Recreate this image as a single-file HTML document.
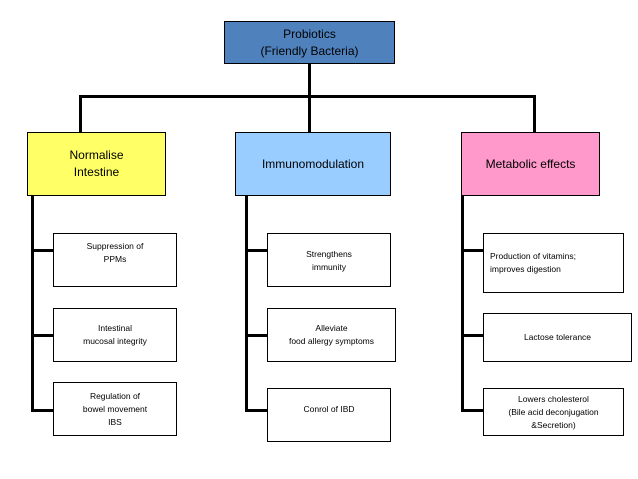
<!DOCTYPE html>
<html><head><style>
body{margin:0;width:638px;height:479px;background:#fff;position:relative;overflow:hidden;font-family:"Liberation Sans",sans-serif;}
.b{position:absolute;box-sizing:border-box;border:1.5px solid #000;display:flex;align-items:center;justify-content:center;text-align:center;color:#000;}
.l{position:absolute;background:#000;}
.s{font-size:8.5px;line-height:13px;}
.m{font-size:12px;line-height:17px;}
</style></head><body>
<div class="b m" style="left:224px;top:21px;width:171px;height:43px;background:#4f81bd;">Probiotics<br>(Friendly Bacteria)</div>
<div class="l" style="left:308px;top:63px;width:3px;height:70px;"></div>
<div class="l" style="left:79px;top:95px;width:457px;height:3px;"></div>
<div class="l" style="left:79px;top:95px;width:3px;height:38px;"></div>
<div class="l" style="left:533px;top:95px;width:3px;height:38px;"></div>
<div class="b m" style="left:27px;top:132px;width:139px;height:64px;background:#ffff66;">Normalise<br>Intestine</div>
<div class="b m" style="left:235px;top:132px;width:156px;height:64px;background:#99ccff;">Immunomodulation</div>
<div class="b m" style="left:461px;top:132px;width:139px;height:64px;background:#ff99cc;">Metabolic effects</div>

<div class="l" style="left:31px;top:196px;width:3px;height:215px;"></div>
<div class="l" style="left:245px;top:196px;width:3px;height:215px;"></div>
<div class="l" style="left:461px;top:196px;width:3px;height:215px;"></div>

<div class="l" style="left:31px;top:249px;width:23px;height:3px;"></div>
<div class="l" style="left:31px;top:334px;width:23px;height:3px;"></div>
<div class="l" style="left:31px;top:409px;width:23px;height:3px;"></div>
<div class="l" style="left:245px;top:249px;width:22px;height:3px;"></div>
<div class="l" style="left:245px;top:334px;width:22px;height:3px;"></div>
<div class="l" style="left:245px;top:409px;width:22px;height:3px;"></div>
<div class="l" style="left:461px;top:249px;width:23px;height:3px;"></div>
<div class="l" style="left:461px;top:334px;width:23px;height:3px;"></div>
<div class="l" style="left:461px;top:409px;width:23px;height:3px;"></div>

<div class="b s" style="left:53px;top:233px;width:124px;height:54px;align-items:flex-start;padding-top:6px;">Suppression of<br>PPMs</div>
<div class="b s" style="left:53px;top:308px;width:124px;height:54px;">Intestinal<br>mucosal integrity</div>
<div class="b s" style="left:53px;top:382px;width:124px;height:54px;">Regulation of<br>bowel movement<br>IBS</div>

<div class="b s" style="left:267px;top:233px;width:124px;height:54px;align-items:flex-start;padding-top:14px;">Strengthens<br>immunity</div>
<div class="b s" style="left:267px;top:308px;width:129px;height:54px;">Alleviate<br>food allergy symptoms</div>
<div class="b s" style="left:267px;top:388px;width:124px;height:54px;align-items:flex-start;padding-top:14px;">Conrol of IBD</div>

<div class="b s" style="left:483px;top:233px;width:141px;height:60px;justify-content:flex-start;text-align:left;padding-left:6px;">Production of vitamins;<br>improves digestion</div>
<div class="b s" style="left:483px;top:313px;width:149px;height:49px;">Lactose tolerance</div>
<div class="b s" style="left:483px;top:388px;width:141px;height:48px;">Lowers cholesterol<br>(Bile acid deconjugation<br>&amp;Secretion)</div>
</body></html>
